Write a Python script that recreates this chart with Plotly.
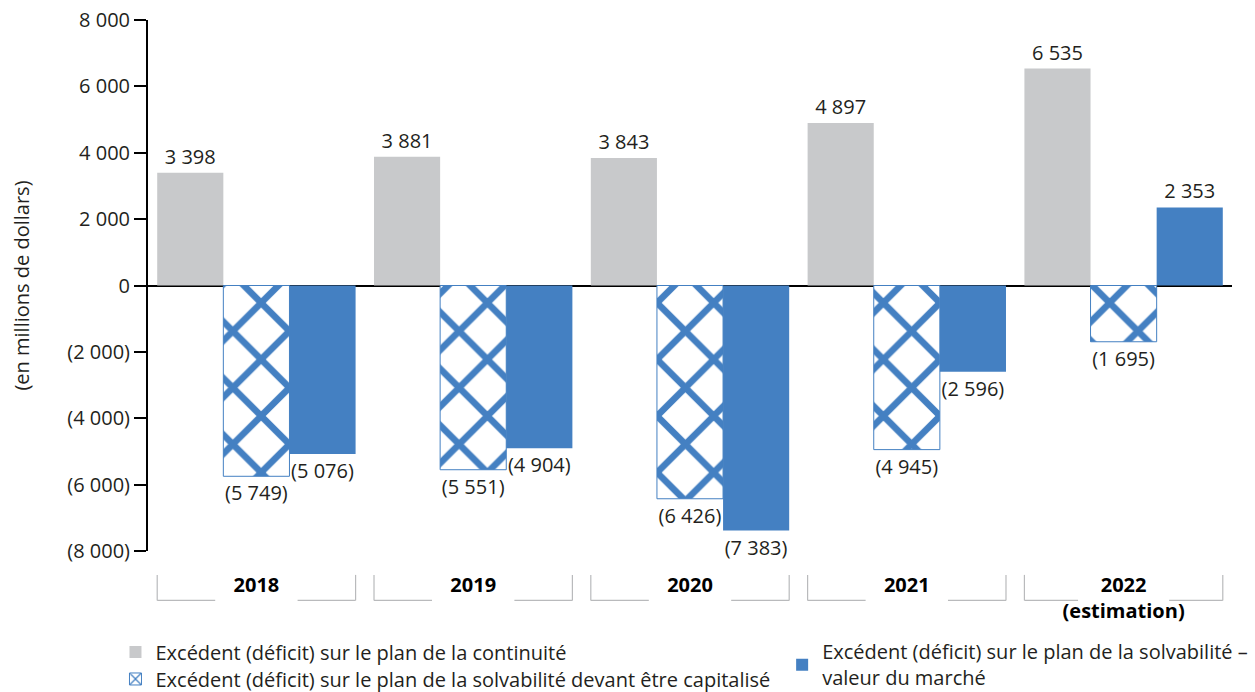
import plotly.graph_objects as go

# Categories and series values (millions of dollars)
years = ["2018", "2019", "2020", "2021", "2022"]
year_labels = ["<b>2018</b>", "<b>2019</b>", "<b>2020</b>", "<b>2021</b>", "<b>2022<br>(estimation)</b>"]
continuite = [3398, 3881, 3843, 4897, 6535]
solvabilite_capitalise = [-5749, -5551, -6426, -4945, -1695]
solvabilite_marche = [-5076, -4904, -7383, -2596, 2353]

y_tickvals = [8000, 6000, 4000, 2000, 0, -2000, -4000, -6000, -8000]
y_ticktext = ["8 000", "6 000", "4 000", "2 000", "0", "(2 000)", "(4 000)", "(6 000)", "(8 000)"]

series_names = [
    "Excédent (déficit) sur le plan de la continuité",
    "Excédent (déficit) sur le plan de la solvabilité devant être capitalisé",
    "Excédent (déficit) sur le plan de la solvabilité –<br>valeur du marché",
]

GRAY = "#c8c9cb"
BLUE = "#4480c2"
TEXT = "#231f20"
FONT = "Open Sans"
FS = 20


def fmt(v):
    s = f"{abs(v):,}".replace(",", " ")
    return f"({s})" if v < 0 else s


fig = go.Figure()

fig.add_trace(go.Bar(
    x=years, y=continuite, name=series_names[0],
    marker=dict(color=GRAY, line=dict(width=0)),
    text=[fmt(v) for v in continuite], textposition="outside",
    cliponaxis=False, legend="legend",
))
fig.add_trace(go.Bar(
    x=years, y=solvabilite_capitalise, name=series_names[1],
    marker=dict(color="white", line=dict(color=BLUE, width=1),
                pattern=dict(shape="x", fgcolor=BLUE, bgcolor="white", fgopacity=1,
                             size=40, solidity=0.3, fillmode="overlay")),
    text=[fmt(v) for v in solvabilite_capitalise], textposition="outside",
    cliponaxis=False, legend="legend2",
))
fig.add_trace(go.Bar(
    x=years, y=solvabilite_marche, name=series_names[2],
    marker=dict(color=BLUE, line=dict(width=0)),
    text=[fmt(v) for v in solvabilite_marche], textposition="outside",
    cliponaxis=False, legend="legend3",
))

fig.update_traces(textfont=dict(family=FONT, size=FS, color=TEXT))

# Bracket decorations under each category label
shapes = []
half = 0.4575
for i, lab in enumerate(years):
    gap = 0.21 if i == len(years) - 1 else 0.19
    line = dict(color="#b9babc", width=1.2)
    shapes += [
        dict(type="line", xref="x", yref="paper", x0=i - half, x1=i - half, y0=-0.045, y1=-0.093, line=line),
        dict(type="line", xref="x", yref="paper", x0=i + half, x1=i + half, y0=-0.045, y1=-0.093, line=line),
        dict(type="line", xref="x", yref="paper", x0=i - half, x1=i - gap, y0=-0.093, y1=-0.093, line=line),
        dict(type="line", xref="x", yref="paper", x0=i + gap, x1=i + half, y0=-0.093, y1=-0.093, line=line),
    ]

legend_common = dict(font=dict(family=FONT, size=FS, color=TEXT), bgcolor="rgba(0,0,0,0)",
                     xanchor="left", yanchor="middle", itemclick=False)

fig.update_layout(
    width=1255, height=692,
    margin=dict(l=148, r=23, t=20, b=141, autoexpand=False),
    paper_bgcolor="white", plot_bgcolor="white",
    barmode="group", bargap=0.085, bargroupgap=0,
    font=dict(family=FONT, size=FS, color=TEXT),
    showlegend=True,
    legend=dict(x=-0.03, y=-0.19, **legend_common),
    legend2=dict(x=-0.03, y=-0.241, **legend_common),
    legend3=dict(x=0.585, y=-0.214, **legend_common),
    shapes=shapes,
    xaxis=dict(
        tickmode="array", tickvals=years, ticktext=year_labels,
        showline=False, showgrid=False, ticks="", zeroline=False,
        ticklabelstandoff=20, tickfont=dict(family=FONT, size=FS, color="#000"),
    ),
    yaxis=dict(
        range=[-8000, 8000], tickmode="array", tickvals=y_tickvals, ticktext=y_ticktext,
        showgrid=False, showline=True, linecolor="#000", linewidth=2,
        ticks="outside", ticklen=12, tickwidth=1.5, tickcolor="#000",
        zeroline=True, zerolinecolor="#000", zerolinewidth=2,
        tickfont=dict(family=FONT, size=FS, color=TEXT),
        title=dict(text="(en millions de dollars)", font=dict(family=FONT, size=FS, color=TEXT), standoff=32),
    ),
)

fig.write_html("out.html")
